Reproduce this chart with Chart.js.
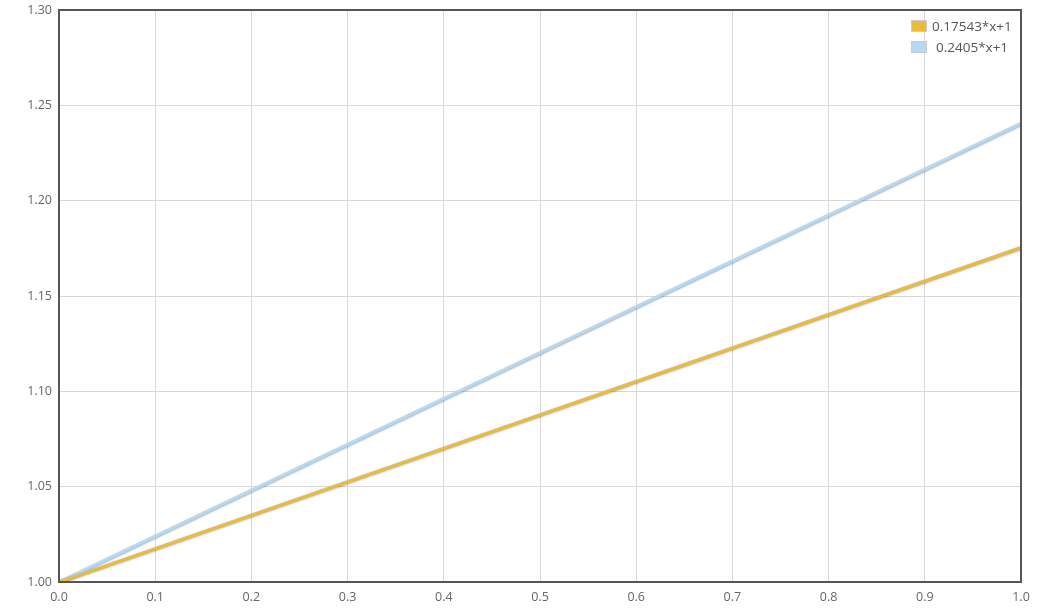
<!DOCTYPE html>
<html>
<head>
<meta charset="utf-8">
<script src="https://cdn.jsdelivr.net/npm/chart.js@4/dist/chart.umd.min.js"></script>
<style>
  html, body { margin: 0; padding: 0; background: #fff; }
  #wrap { width: 1049px; height: 612px; position: relative; }
</style>
</head>
<body>
<div id="wrap"><canvas id="chart"></canvas></div>
<script>
// data
const xValues = [0, 1];
const seriesLabels = ['0.17543*x+1', '0.2405*x+1'];
const seriesA = [1.0, 1.17543];
const seriesB = [1.0, 1.2405];
const xTicks = [0, 0.1, 0.2, 0.3, 0.4, 0.5, 0.6, 0.7, 0.8, 0.9, 1.0];
const yTicks = [1.00, 1.05, 1.10, 1.15, 1.20, 1.25, 1.30];

const colors = ['#ecbb3a', '#b5d8f5'];

// shadow under the lines
const lineShadow = {
    id: 'lineShadow',
    beforeDatasetDraw(chart) {
        const c = chart.ctx;
        c.save();
        c.shadowColor = 'rgba(0,0,0,0.35)';
        c.shadowBlur = 2;
        c.shadowOffsetX = 0;
        c.shadowOffsetY = 1;
    },
    afterDatasetDraw(chart) {
        chart.ctx.restore();
    }
};

// frame round the plot + legend in the top right corner
const frameAndLegend = {
    id: 'frameAndLegend',
    afterDraw(chart) {
        const c = chart.ctx;
        const a = chart.chartArea;
        c.save();
        c.strokeStyle = '#555';
        c.lineWidth = 2;
        c.strokeRect(a.left, a.top, a.right - a.left, a.bottom - a.top);

        c.font = '13.5px "Open Sans", sans-serif';
        c.textBaseline = 'middle';
        c.textAlign = 'left';
        chart.data.datasets.forEach((ds, i) => {
            const y = 20 + i * 21;
            c.fillStyle = ds.borderColor;
            c.fillRect(911, y, 16, 12);
            c.strokeStyle = '#ccc';
            c.lineWidth = 1;
            c.strokeRect(911.5, y + 0.5, 15, 11);
            c.fillStyle = '#555';
            c.fillText(ds.label, i === 0 ? 932 : 936, y + 7);
        });
        c.restore();
    }
};

new Chart(document.getElementById('chart'), {
    type: 'line',
    data: {
        datasets: [
            {
                label: seriesLabels[0],
                data: xValues.map((x, i) => ({ x: x, y: seriesA[i] })),
                borderColor: colors[0],
                backgroundColor: colors[0],
                borderWidth: 3,
                pointRadius: 0,
                tension: 0
            },
            {
                label: seriesLabels[1],
                data: xValues.map((x, i) => ({ x: x, y: seriesB[i] })),
                borderColor: colors[1],
                backgroundColor: colors[1],
                borderWidth: 3,
                pointRadius: 0,
                tension: 0
            }
        ]
    },
    options: {
        responsive: true,
        maintainAspectRatio: false,
        animation: false,
        layout: { padding: { top: 10, right: 28, left: 0, bottom: 0 } },
        plugins: {
            legend: { display: false },
            tooltip: { enabled: false }
        },
        scales: {
            x: {
                type: 'linear',
                min: 0,
                max: 1,
                afterBuildTicks: (s) => { s.ticks = xTicks.map(v => ({ value: v })); },
                afterFit: (s) => { s.height = 30; s.paddingLeft = 0; s.paddingRight = 0; },
                grid: { color: '#d8d8d8', drawTicks: false },
                border: { display: false },
                ticks: {
                    padding: 8,
                    color: '#666',
                    font: { family: '"Open Sans", sans-serif', size: 12.5 },
                    callback: v => Number(v).toFixed(1)
                }
            },
            y: {
                min: 1,
                max: 1.3,
                afterBuildTicks: (s) => { s.ticks = yTicks.map(v => ({ value: v })); },
                afterFit: (s) => { s.width = 59; s.paddingTop = 0; s.paddingBottom = 0; },
                grid: { color: '#d8d8d8', drawTicks: false },
                border: { display: false },
                ticks: {
                    padding: 7,
                    color: '#666',
                    font: { family: '"Open Sans", sans-serif', size: 12.5 },
                    callback: v => Number(v).toFixed(2)
                }
            }
        }
    },
    plugins: [lineShadow, frameAndLegend]
});
</script>
</body>
</html>
